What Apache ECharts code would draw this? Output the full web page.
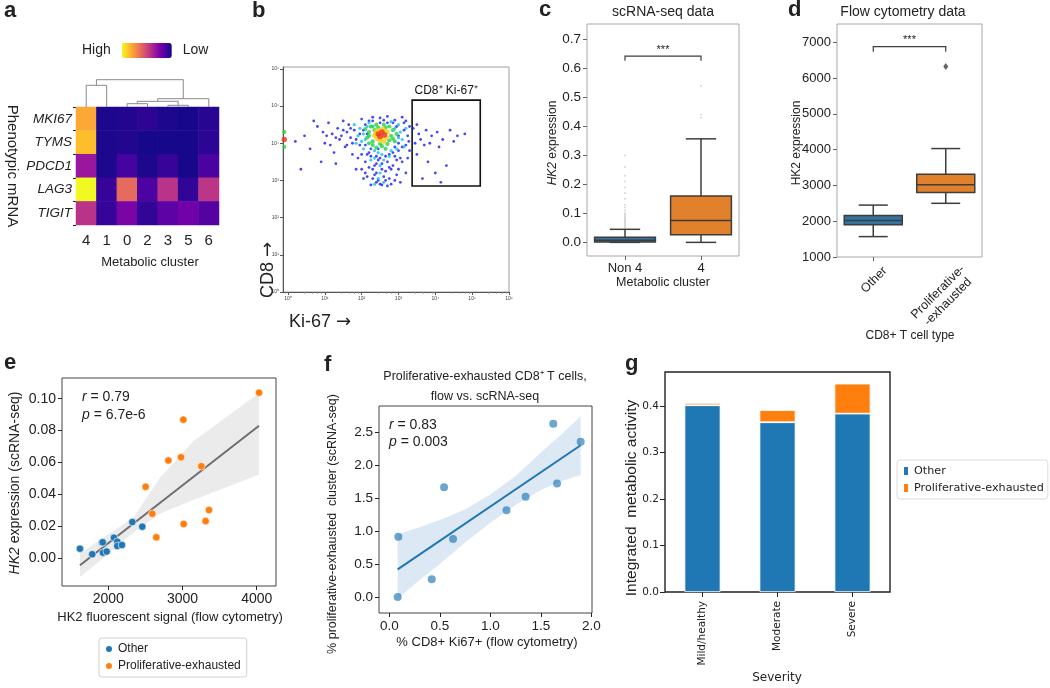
<!DOCTYPE html>
<html><head><meta charset="utf-8">
<script src="https://cdn.jsdelivr.net/npm/echarts@6/dist/echarts.min.js"></script>
<style>html,body{margin:0;padding:0;background:#fff}#c{width:1050px;height:688px}</style>
</head><body><div id="c"></div>
<script>
// ---------- panel a : heatmap ----------
const aClusters = ['4','1','0','2','3','5','6'];
const aGenes = ['MKI67','TYMS','PDCD1','LAG3','TIGIT'];
const aValues = [
  [0.80,0.03,0.04,0.06,0.03,0.02,0.05],
  [0.86,0.03,0.04,0.02,0.02,0.02,0.06],
  [0.33,0.03,0.11,0.03,0.08,0.02,0.12],
  [1.00,0.08,0.62,0.13,0.43,0.07,0.44],
  [0.43,0.08,0.24,0.07,0.17,0.22,0.15]
];
// dendrogram merges: [left pos, right pos, merge height, left child height, right child height]
const aDendro = [[4,5,1.7,0,0],[2,3,3.3,0,0],[2.5,4.5,5.7,3.3,1.7],[3.5,6,8.3,5.7,0],[0,1,21.7,0,0],[0.5,4.75,27.3,21.7,8.3]];

// ---------- panel b : flow cytometry (log10 Ki-67, log10 CD8, density level) ----------
const bCells = [
 [0.2,4.05,0],[0.45,4.2,0],[0.6,3.85,0],[0.8,4.45,0],[0.95,4.3,0],[1.0,4.0,0],[1.1,4.55,0],[1.2,4.25,0],[1.25,3.75,0],[1.35,4.4,0],
 [1.4,4.1,0],[1.5,4.6,0],[1.55,3.9,0],[1.6,4.3,0],[1.7,4.15,0],[1.75,3.7,0],[1.65,4.5,0],[1.45,4.2,0],[0.35,3.3,0],[0.9,3.5,0],
 [1.3,3.45,0],[1.15,3.95,0],[0.7,4.6,0],[1.8,4.35,0],[1.9,3.6,0],[2.0,3.3,0],[2.1,3.5,0],[2.15,3.1,0],[2.2,3.75,0],[2.25,2.88,0],
 [2.3,3.3,0],[2.4,3.45,0],[2.45,3.0,0],[2.5,3.6,0],[2.55,2.88,0],[2.65,3.25,0],[2.7,3.5,0],[2.75,3.05,0],[2.8,2.9,0],[2.85,3.4,0],
 [2.9,3.65,0],[2.95,3.15,0],[3.0,3.8,0],[3.05,2.95,0],[3.1,3.5,0],[3.2,4.6,0],[3.25,4.2,0],[3.3,3.8,0],[2.0,4.65,0],[2.3,4.7,0],
 [2.5,4.68,0],[2.7,4.72,0],[2.9,4.62,0],[3.1,4.7,0],[1.95,3.95,0],[2.1,4.5,0],[3.0,4.0,0],[3.15,4.35,0],[2.35,3.15,0],[2.6,3.1,0],
 [2.85,3.75,0],[2.05,3.05,0],[3.2,3.2,0],[1.85,3.3,0],[2.4,2.95,0],[2.7,2.85,0],[2.15,4.25,0],[2.95,4.45,0],[2.25,3.65,0],[3.28,4.05,0],
 [3.4,4.4,0],[3.45,4.0,0],[3.5,3.7,0],[3.55,4.25,0],[3.6,4.1,0],[3.7,3.95,0],[3.75,4.35,0],[3.8,3.5,0],[3.9,4.2,0],[4.0,3.2,0],
 [4.05,4.3,0],[4.1,3.9,0],[4.2,4.1,0],[4.3,3.4,0],[4.4,4.35,0],[4.5,4.05,0],[4.6,4.2,0],[4.8,4.25,0],[3.65,3.05,0],[4.15,2.95,0],
 [3.5,4.5,0],[3.85,4.0,0],
 [1.85,4.1,0],[1.95,4.25,0],[2.05,4.35,0],[2.1,3.95,0],[2.15,3.7,0],[2.2,4.6,0],[2.25,3.85,0],[2.3,4.6,0],[2.35,3.4,0],[2.4,3.65,0],
 [2.45,3.85,0],[2.5,4.55,0],[2.55,3.45,0],[2.6,4.62,0],[2.65,3.65,0],[2.7,4.55,0],[2.75,3.7,0],[2.8,3.3,0],[2.85,4.55,0],[2.9,3.9,0],
 [2.95,3.55,0],[3.0,4.2,0],[3.05,3.6,0],[3.1,3.9,0],[3.15,4.55,0],[3.2,3.95,0],[3.25,3.6,0],[3.3,4.45,0],[1.6,3.95,0],[1.7,4.4,0],
 [1.75,4.0,0],[1.5,4.35,0],[1.3,4.15,0],[1.05,4.2,0],[2.0,3.7,0],[2.1,3.2,0],[2.3,3.05,0],[2.5,2.9,0],[2.65,3.0,0],[2.9,3.0,0],
 [2.2,3.35,0],[2.55,3.3,0],[2.75,3.35,0],[3.0,3.3,0],[2.4,3.2,0],[2.45,3.55,0],
 [1.9,4.2,1],[1.95,4.4,1],[2.0,4.05,1],[3.05,4.3,1],[3.1,4.1,1],[3.0,4.5,1],[2.2,4.55,1],[2.8,4.58,1],[2.05,3.85,1],[2.45,3.75,1],
 [2.8,3.8,1],[3.15,3.9,1],[1.85,4.0,1],[2.35,3.6,1],[2.6,3.55,1],[2.5,3.2,1],[2.6,2.95,1],[2.35,2.9,1],[1.8,4.5,1],[3.2,4.4,1],
 [2.1,4.1,1],[2.15,4.45,1],[2.9,4.4,1],[3.0,4.15,1],[2.35,3.8,1],[2.75,3.65,1],[2.5,3.4,1],[2.45,3.05,1],[2.55,3.7,1],[2.05,4.25,1],
 [2.95,3.85,1],[2.25,3.55,1],
 [2.2,4.3,2],[2.25,4.45,2],[2.3,4.05,2],[2.8,4.2,2],[2.85,4.35,2],[2.75,4.45,2],[2.4,4.5,2],[2.6,4.5,2],[2.15,4.15,2],[2.9,4.05,2],
 [2.3,3.95,2],[2.55,3.92,2],[2.7,3.98,2],[2.45,4.42,2],[2.1,4.38,2],[2.95,4.25,2],[2.2,4.0,2],[2.65,3.85,2],
 [2.35,4.35,2],[2.5,3.98,2],[2.75,4.08,2],[2.3,4.45,2],[2.65,4.42,2],[2.4,3.88,2],[2.85,4.12,2],[2.2,4.2,2],
 [2.45,4.25,4],[2.55,4.3,4],[2.5,4.18,4],[2.62,4.22,4],[2.4,4.32,3],[2.58,4.38,3],[2.68,4.15,3],[2.35,4.2,3],[2.5,4.08,3],[2.7,4.3,3],
 [2.42,4.12,3],[2.6,4.05,3],[2.55,4.12,3],[2.48,4.35,3],[2.64,4.3,3],[2.38,4.25,3],
 [-0.1,3.9,2],[-0.1,4.1,4],[-0.1,4.3,2]
];
const bGate = {x0:3.37, x1:5.22, y0:2.85, y1:5.16}; // log10 units
const bDecades = [0,1,2,3,4,5,6];

// ---------- panel c : scRNA-seq boxplot ----------
const cCats = ['Non 4','4'];
const cBox = [[0,0.001,0.007,0.018,0.045],[0,0.0265,0.075,0.160,0.357]]; // lo, q1, median, q3, hi
const cOutNon4 = [0.05,0.055,0.06,0.065,0.07,0.075,0.08,0.085,0.09,0.095,0.10,0.11,0.12,0.13,0.15,0.17,0.19,0.21,0.23,0.26,0.30];
const cOut4 = [0.43,0.44,0.54];
const cTicks = [0,0.1,0.2,0.3,0.4,0.5,0.6,0.7];
const cSig = [0,1,0.642,0.626];

// ---------- panel d : flow cytometry boxplot ----------
const dCats = ['Other','Proliferative-\n-exhausted'];
const dBox = [[1570,1900,2020,2160,2450],[2500,2800,3020,3310,4030]];
const dOutliers = [[1,6320]];
const dTicks = [1000,2000,3000,4000,5000,6000,7000];
const dSig = [0,1,6877,6738];

// ---------- panel e : HK2 scatter ----------
const eOtherX = [1618,1784,1915,1925,1928,1978,2076,2121,2121,2184,2324,2458];
const eOtherY = [0.0060,0.0025,0.0098,0.0100,0.0035,0.0042,0.0129,0.0104,0.0077,0.0083,0.0227,0.0198];
const eProX = [2503,2593,2647,2809,2980,3011,3016,3254,3312,3357,4031];
const eProY = [0.0448,0.0279,0.0131,0.0613,0.0633,0.0869,0.0215,0.0577,0.0233,0.0302,0.1038];
const eRegX = [1618,4031], eRegY = [-0.0044,0.0831];
const eBandX = [1618,2000,2337,2697,3146,3600,4031];
const eBandHi = [0.0030,0.0150,0.0254,0.0504,0.0733,0.0888,0.1035];
const eBandLo = [-0.0118,0.0027,0.0160,0.0280,0.0365,0.0446,0.0525];
const eXTicks = [2000,3000,4000];
const eYTicks = [0,0.02,0.04,0.06,0.08,0.10];

// ---------- panel f : proliferative-exhausted fraction ----------
const fX = [0.083,0.089,0.42,0.542,0.631,1.16,1.349,1.623,1.66,1.894];
const fY = [0.0,0.915,0.27,1.67,0.884,1.32,1.525,2.637,1.728,2.363];
const fRegX = [0.083,1.894], fRegY = [0.42,2.31];
const fBandX = [0.083,0.3,0.5,0.75,1.0,1.25,1.5,1.7,1.894];
const fBandHi = [0.955,1.06,1.17,1.33,1.56,1.84,2.2,2.47,2.75];
const fBandLo = [-0.025,0.26,0.5,0.83,1.13,1.4,1.63,1.76,1.855];
const fXTicks = [0,0.5,1.0,1.5,2.0];
const fYTicks = [0,0.5,1.0,1.5,2.0,2.5];

// ---------- panel g : stacked bars ----------
const gCats = ['Mild/healthy','Moderate','Severe'];
const gOther = [0.4015,0.365,0.3835];
const gProlif = [0.005,0.026,0.0645];
const gTicks = [0,0.1,0.2,0.3,0.4];

// ---------- styling ----------
const FONT = '"Liberation Sans", Arial, Helvetica, sans-serif';
const DJ = '"DejaVu Sans", sans-serif';
const INK = '#222';
const BLUE = '#1f77b4', ORANGE = '#ff7f0e';
const BOXC = ['#3274a1','#e1812c'];
const PLASMA = ['#0d0887','#46039f','#7201a8','#9c179e','#bd3786','#d8576b','#ed7953','#fb9f3a','#fdca26','#f0f921'];
const DENS_COL = ['#1a1af0','#14bff0','#26d24a','#f2d21a','#f0321a'];
const DENS_SIZE = [2.8,3.2,4.2,5,5.5];
const SUP = ['⁰','¹','²','³','⁴','⁵','⁶'];

const chart = echarts.init(document.getElementById('c'), null, {renderer:'canvas', width:1050, height:688});

function T(text, x, y, o) {
  o = o || {};
  const st = {text:text, fontSize:o.size||13, fontFamily:o.font||FONT, fontWeight:o.weight||'normal',
    fontStyle:o.italic?'italic':'normal', fill:o.color||INK, align:o.align||'center', verticalAlign:o.valign||'middle',
    lineHeight:o.lh};
  if (o.rich) st.rich = o.rich;
  return {type:'text', x:x, y:y, rotation:o.rot||0, style:st, z:100, silent:true};
}
function ital(size){ return {i:{fontStyle:'italic', fontSize:size, fontFamily:FONT}}; }

function valueAxis(gi, min, max, ticks, fmt, o) {
  o = o || {};
  return {gridIndex:gi, type:'value', min:min, max:max,
    axisLine:{show:false, onZero:false}, splitLine:{show:false},
    axisTick:{show:true, customValues:ticks, length:o.tl||4, lineStyle:{color:o.tc||INK, width:1}},
    axisLabel:{customValues:ticks, formatter:fmt, fontSize:o.fs||13, fontFamily:o.font||FONT, color:INK, margin:o.margin||6}};
}

function boxRender(colors) {
  return function(params, api) {
    const c = api.value(0);
    const bw = api.size([1,0])[0]*0.8;
    const p = function(v){ return api.coord([c, v]); };
    const lo=p(api.value(1)), q1=p(api.value(2)), md=p(api.value(3)), q3=p(api.value(4)), hi=p(api.value(5));
    const x = lo[0];
    const st = {stroke:'#3d3d3d', lineWidth:1.5};
    return {type:'group', children:[
      {type:'line', shape:{x1:x,y1:lo[1],x2:x,y2:q1[1]}, style:st},
      {type:'line', shape:{x1:x,y1:q3[1],x2:x,y2:hi[1]}, style:st},
      {type:'line', shape:{x1:x-bw/4,y1:lo[1],x2:x+bw/4,y2:lo[1]}, style:st},
      {type:'line', shape:{x1:x-bw/4,y1:hi[1],x2:x+bw/4,y2:hi[1]}, style:st},
      {type:'rect', shape:{x:x-bw/2,y:q3[1],width:bw,height:q1[1]-q3[1]}, style:{fill:colors[params.dataIndex], stroke:'#3d3d3d', lineWidth:1.5}},
      {type:'line', shape:{x1:x-bw/2,y1:md[1],x2:x+bw/2,y2:md[1]}, style:st}
    ]};
  };
}
function bracketRender(params, api) {
  const a = api.coord([api.value(0), api.value(2)]);
  const b = api.coord([api.value(1), api.value(2)]);
  const lowY = api.coord([api.value(0), api.value(3)])[1];
  return {type:'group', children:[
    {type:'polyline', shape:{points:[[a[0],lowY],[a[0],a[1]],[b[0],b[1]],[b[0],lowY]]}, style:{stroke:'#3d3d3d', lineWidth:1.2, fill:null}},
    {type:'text', x:(a[0]+b[0])/2, y:a[1]-1, style:{text:'***', align:'center', verticalAlign:'bottom', fontSize:11, fontFamily:FONT, fill:INK}}
  ]};
}
function bandRender(bx, lo, hi, color) {
  return function(params, api) {
    const pts = [];
    for (let i=0;i<bx.length;i++) pts.push(api.coord([bx[i], hi[i]]));
    for (let i=bx.length-1;i>=0;i--) pts.push(api.coord([bx[i], lo[i]]));
    return {type:'polygon', shape:{points:pts}, style:{fill:color}};
  };
}
function dendroRender(params, api) {
  const xl=api.value(0), xr=api.value(1), h=api.value(2), hl=api.value(3), hr=api.value(4);
  return {type:'polyline', shape:{points:[api.coord([xl,hl]),api.coord([xl,h]),api.coord([xr,h]),api.coord([xr,hr])]},
    style:{stroke:'#8a8a8a', lineWidth:1, fill:null}};
}
const zip = (xs, ys) => xs.map((x,i)=>[x, ys[i]]);

const heatData = [];
aValues.forEach((row,r)=>row.forEach((v,c)=>heatData.push([c,r,v])));
const bData = bCells.slice().sort((a,b)=>a[2]-b[2]).map(d=>[Math.pow(10,d[0]), Math.pow(10,d[1]), d[2]]);
const cOutData = cOutNon4.map(v=>[0,v]).concat(cOut4.map(v=>[1,v]));

const grid = [
  {left:76, top:107, width:143, height:118},
  {left:76, top:77, width:143, height:30},
  {left:283, top:67, width:226, height:225, show:true, borderColor:'#a0a0a0', borderWidth:1},
  {left:587, top:24, width:152, height:232, show:true, borderColor:'#a8a8a8', borderWidth:1},
  {left:837, top:24, width:145, height:233, show:true, borderColor:'#a8a8a8', borderWidth:1},
  {left:62, top:378, width:214, height:208, show:true, borderColor:'#444', borderWidth:1},
  {left:379, top:406, width:213, height:207, show:true, borderColor:'#444', borderWidth:1},
  {left:665, top:372, width:225, height:220, show:true, borderColor:'#222', borderWidth:1.4}
];

const logFmt = v => '10' + SUP[Math.round(Math.log10(v))];
const bTickVals = bDecades.map(d=>Math.pow(10,d));
const noLine = {show:false, onZero:false};

const xAxis = [
  {gridIndex:0, type:'category', data:aClusters, axisLine:noLine, axisTick:{show:false}, splitLine:{show:false},
    axisLabel:{fontSize:15, fontFamily:FONT, color:INK, margin:8}},
  {gridIndex:1, type:'value', min:-0.5, max:6.5, show:false, axisLine:noLine},
  {gridIndex:2, type:'log', logBase:10, min:Math.pow(10,-0.135), max:1e6,
    axisLine:{show:true, onZero:false, lineStyle:{color:'#555'}}, splitLine:{show:false},
    axisTick:{show:true, customValues:bTickVals, length:3, lineStyle:{color:'#555'}},
    minorTick:{show:true, splitNumber:5, length:1.5, lineStyle:{color:'#777'}}, minorSplitLine:{show:false},
    axisLabel:{customValues:bTickVals, formatter:logFmt, fontSize:5, color:'#444', margin:4}},
  {gridIndex:3, type:'category', data:cCats, axisLine:noLine, splitLine:{show:false},
    axisTick:{show:true, alignWithLabel:true, length:4, lineStyle:{color:'#666'}},
    axisLabel:{fontSize:13, fontFamily:FONT, color:INK, margin:6}},
  {gridIndex:4, type:'category', data:dCats, axisLine:noLine, splitLine:{show:false},
    axisTick:{show:true, alignWithLabel:true, length:4, lineStyle:{color:'#666'}},
    axisLabel:{show:false}},
  valueAxis(5, 1376, 4260, eXTicks, v=>String(v), {fs:14}),
  valueAxis(6, -0.102, 2.006, fXTicks, v=>v.toFixed(1), {fs:13.5}),
  {gridIndex:7, type:'category', data:gCats, axisLine:noLine, splitLine:{show:false},
    axisTick:{show:true, alignWithLabel:true, length:5, lineStyle:{color:INK}},
    axisLabel:{rotate:90, fontSize:10.5, fontFamily:DJ, color:INK, margin:9}}
];
const yAxis = [
  {gridIndex:0, type:'category', data:aGenes, inverse:true, axisLine:noLine, splitLine:{show:false},
    axisTick:{show:true, length:3, lineStyle:{color:INK}},
    axisLabel:{fontSize:13.5, fontStyle:'italic', fontFamily:FONT, color:INK, margin:4}},
  {gridIndex:1, type:'value', min:0, max:30, show:false, axisLine:noLine},
  {gridIndex:2, type:'log', logBase:10, min:1, max:Math.pow(10,6.05),
    axisLine:{show:true, onZero:false, lineStyle:{color:'#555'}}, splitLine:{show:false},
    axisTick:{show:true, customValues:bTickVals, length:3, lineStyle:{color:'#555'}},
    axisLabel:{customValues:bTickVals, formatter:logFmt, fontSize:5, color:'#444', margin:4}},
  valueAxis(3, -0.047, 0.753, cTicks, v=>v.toFixed(1), {fs:13.5, tc:'#666'}),
  valueAxis(4, 1000, 7510, dTicks, v=>String(v), {fs:13, tc:'#666'}),
  valueAxis(5, -0.0174, 0.113, eYTicks, v=>v.toFixed(2), {fs:14}),
  valueAxis(6, -0.244, 2.907, fYTicks, v=>v.toFixed(1), {fs:13.5}),
  valueAxis(7, 0, 0.473, gTicks, v=>v.toFixed(1), {fs:10.5, font:DJ, tl:5})
];

const series = [
  {type:'heatmap', xAxisIndex:0, yAxisIndex:0, data:heatData, itemStyle:{borderWidth:0}, emphasis:{disabled:true}},
  {type:'custom', xAxisIndex:1, yAxisIndex:1, data:aDendro, encode:{x:[0,1], y:[2,3,4]}, renderItem:dendroRender, silent:true},
  {type:'scatter', xAxisIndex:2, yAxisIndex:2, data:bData, silent:true,
    symbolSize: v => DENS_SIZE[v[2]], itemStyle:{color: p => DENS_COL[p.value[2]]},
    markArea:{silent:true, itemStyle:{color:'rgba(0,0,0,0)', borderColor:'#111', borderWidth:1.6},
      label:{show:true, position:'top', formatter:'CD8⁺ Ki-67⁺', fontSize:12, fontFamily:FONT, color:'#111', distance:3},
      data:[[{coord:[Math.pow(10,bGate.x0), Math.pow(10,bGate.y1)]},{coord:[Math.pow(10,bGate.x1), Math.pow(10,bGate.y0)]}]]}},
  {type:'scatter', xAxisIndex:3, yAxisIndex:3, data:cOutData, symbolSize:2, itemStyle:{color:'rgba(110,110,110,0.35)'}, silent:true},
  {type:'custom', xAxisIndex:3, yAxisIndex:3, data:cBox.map((b,i)=>[i].concat(b)), encode:{x:0, y:[1,2,3,4,5]}, renderItem:boxRender(BOXC), silent:true},
  {type:'custom', xAxisIndex:3, yAxisIndex:3, data:[cSig], encode:{x:[0,1], y:[2,3]}, renderItem:bracketRender, silent:true},
  {type:'custom', xAxisIndex:4, yAxisIndex:4, data:dBox.map((b,i)=>[i].concat(b)), encode:{x:0, y:[1,2,3,4,5]}, renderItem:boxRender(BOXC), silent:true},
  {type:'scatter', xAxisIndex:4, yAxisIndex:4, data:dOutliers, symbol:'diamond', symbolSize:[5,7], itemStyle:{color:'#3d3d3d'}, silent:true},
  {type:'custom', xAxisIndex:4, yAxisIndex:4, data:[dSig], encode:{x:[0,1], y:[2,3]}, renderItem:bracketRender, silent:true},
  {type:'custom', xAxisIndex:5, yAxisIndex:5, data:[[eBandX[0], eBandHi[0]]], renderItem:bandRender(eBandX, eBandLo, eBandHi, '#ebebeb'), silent:true, z:1},
  {type:'line', xAxisIndex:5, yAxisIndex:5, data:zip(eRegX, eRegY), symbol:'none', lineStyle:{color:'#6e6e6e', width:2}, silent:true, z:2},
  {name:'Other', type:'scatter', xAxisIndex:5, yAxisIndex:5, data:zip(eOtherX, eOtherY), symbolSize:7.5,
    itemStyle:{color:BLUE, borderColor:'#fff', borderWidth:0.6, opacity:1}, silent:true, z:3},
  {name:'Proliferative-exhausted', type:'scatter', xAxisIndex:5, yAxisIndex:5, data:zip(eProX, eProY), symbolSize:7.5,
    itemStyle:{color:ORANGE, borderColor:'#fff', borderWidth:0.6, opacity:1}, silent:true, z:3},
  {type:'custom', xAxisIndex:6, yAxisIndex:6, data:[[fBandX[0], fBandHi[0]]], renderItem:bandRender(fBandX, fBandLo, fBandHi, '#dce8f4'), silent:true, z:1},
  {type:'line', xAxisIndex:6, yAxisIndex:6, data:zip(fRegX, fRegY), symbol:'none', lineStyle:{color:BLUE, width:2}, silent:true, z:2},
  {type:'scatter', xAxisIndex:6, yAxisIndex:6, data:zip(fX, fY), symbolSize:8, itemStyle:{color:'rgba(31,119,180,0.82)'}, silent:true, z:3},
  {name:'Other', type:'bar', xAxisIndex:7, yAxisIndex:7, stack:'g', data:gOther, barWidth:'48%',
    itemStyle:{color:BLUE, borderColor:'#fff', borderWidth:0.8}, silent:true},
  {name:'Proliferative-exhausted', type:'bar', xAxisIndex:7, yAxisIndex:7, stack:'g', data:gProlif, barWidth:'48%',
    itemStyle:{color:ORANGE, borderColor:'#fff', borderWidth:0.8}, silent:true}
];

const arrowRich = {a:{fontFamily:DJ, fontSize:18}};
const graphics = [
  T('a', 4, 11, {size:22, weight:'bold', align:'left'}),
  T('b', 252, 11, {size:22, weight:'bold', align:'left'}),
  T('c', 539, 10, {size:22, weight:'bold', align:'left'}),
  T('d', 788, 10, {size:22, weight:'bold', align:'left'}),
  T('e', 4, 363, {size:22, weight:'bold', align:'left'}),
  T('f', 324, 365, {size:22, weight:'bold', align:'left'}),
  T('g', 625, 364, {size:22, weight:'bold', align:'left'}),
  // a
  T('Metabolic cluster', 150, 262, {size:13}),
  T('Phenotypic mRNA', 12, 166, {size:15, rot:-Math.PI/2}),
  // b
  T('CD8 {a|→}', 268, 270, {size:18, rot:Math.PI/2, rich:arrowRich}),
  T('Ki-67 {a|→}', 320, 322, {size:18, rich:arrowRich}),
  // c
  T('scRNA-seq data', 663, 12, {size:14}),
  T('{i|HK2} expression', 553, 143, {size:12, rot:Math.PI/2, rich:ital(12)}),
  T('Metabolic cluster', 663, 283, {size:12.5}),
  // d
  T('Flow cytometry data', 903, 12, {size:14}),
  T('HK2 expression', 797, 143, {size:12, rot:Math.PI/2}),
  T(dCats[0], 874, 280, {size:12.5, rot:Math.PI/4}),
  T(dCats[1], 943, 297, {size:12.5, rot:Math.PI/4, lh:14}),
  T('CD8+ T cell type', 910, 336, {size:12}),
  // e
  T('{i|HK2} expression (scRNA-seq)', 15, 483, {size:14, rot:Math.PI/2, rich:ital(14)}),
  T('HK2 fluorescent signal (flow cytometry)', 170, 617, {size:13}),
  T('{i|r} = 0.79', 82, 397, {size:14, align:'left', rich:ital(14)}),
  T('{i|p} = 6.7e-6', 82, 415, {size:14, align:'left', rich:ital(14)}),
  // f
  T('Proliferative-exhausted CD8⁺ T cells,', 485, 377, {size:12.5}),
  T('flow vs. scRNA-seq', 485, 397, {size:12.5}),
  T('% proliferative-exhausted  cluster (scRNA-seq)', 333, 524, {size:12.5, rot:Math.PI/2}),
  T('% CD8+ Ki67+ (flow cytometry)', 487, 642, {size:13}),
  T('{i|r} = 0.83', 389, 425, {size:14, align:'left', rich:ital(14)}),
  T('{i|p} = 0.003', 389, 442, {size:14, align:'left', rich:ital(14)}),
  // g
  T('Integrated  metabolic activity', 632, 498, {size:15.5, rot:Math.PI/2}),
  T('Severity', 777, 678, {size:12, font:DJ})
];

chart.setOption({
  animation:false,
  backgroundColor:'#fff',
  textStyle:{fontFamily:FONT},
  grid:grid, xAxis:xAxis, yAxis:yAxis, series:series,
  visualMap:[{type:'continuous', seriesIndex:0, min:0, max:1, orient:'horizontal', inverse:true,
    left:67, top:28, itemWidth:15, itemHeight:50, text:['High','Low'], textGap:11,
    textStyle:{fontSize:14, fontFamily:FONT, color:INK}, calculable:false, hoverLink:false,
    inRange:{color:PLASMA}}],
  legend:[
    {left:99, top:638, orient:'vertical', selectedMode:false, itemWidth:8, itemHeight:8, itemGap:5,
      padding:[5,6,5,5], borderColor:'#d0d0d0', borderWidth:1, borderRadius:3,
      textStyle:{fontSize:12, fontFamily:FONT, color:INK},
      data:[{name:'Other', icon:'circle'},{name:'Proliferative-exhausted', icon:'circle'}]},
    {left:897, top:460, orient:'vertical', selectedMode:false, itemWidth:6, itemHeight:10, itemGap:5,
      padding:[5,4,5,5], borderColor:'#dcdcdc', borderWidth:1, borderRadius:3,
      textStyle:{fontSize:11.2, fontFamily:DJ, color:INK},
      data:[{name:'Other', icon:'rect'},{name:'Proliferative-exhausted', icon:'rect'}]}
  ],
  graphic:graphics
});
</script>
</body></html>
